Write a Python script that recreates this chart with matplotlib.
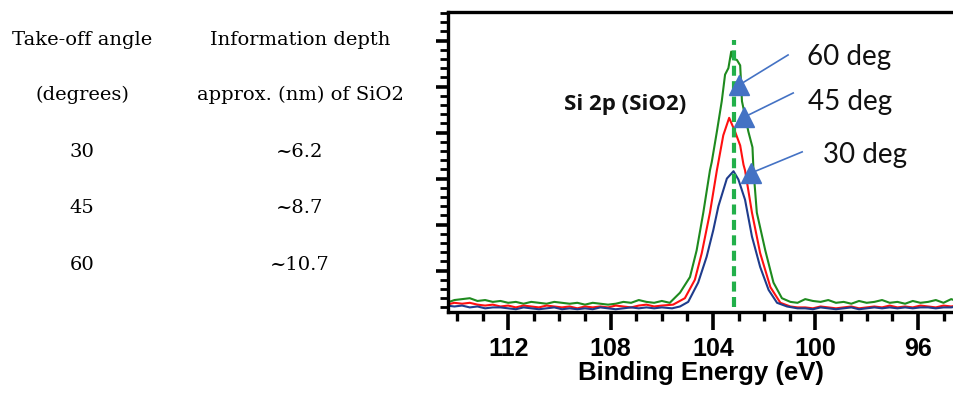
import matplotlib
matplotlib.use("Agg")
import matplotlib.pyplot as plt
from matplotlib.ticker import MultipleLocator

# table on the left
angles = ["30", "45", "60"]
depths = ["~6.2", "~8.7", "~10.7"]

# baseline x positions (eV), shared by the three spectra
base_left_x = [114.4, 114.1, 113.8, 113.5, 113.2, 112.9, 112.6, 112.3, 112.0, 111.7,
               111.4, 111.1, 110.8, 110.5, 110.2, 109.9, 109.6, 109.3, 109.0, 108.7,
               108.4, 108.1, 107.8, 107.5, 107.2, 106.9, 106.6, 106.3, 106.0]
base_right_x = [100.7, 100.4, 100.1, 99.8, 99.5, 99.2, 98.9, 98.6, 98.3, 98.0, 97.7,
                97.4, 97.1, 96.8, 96.5, 96.2, 95.9, 95.6, 95.3, 95.0, 94.7, 94.5]

# 60 deg (green)
g_left = [1.5, 1.8, 1.9, 2.0, 1.7, 1.8, 1.6, 1.7, 1.5, 1.6, 1.4, 1.6, 1.5, 1.4, 1.6,
          1.5, 1.4, 1.5, 1.3, 1.5, 1.4, 1.3, 1.4, 1.6, 1.5, 1.8, 1.6, 1.5, 1.7]
g_peak_x = [105.69, 105.29, 104.90, 104.64, 104.38, 104.12, 104.05, 103.85, 103.66,
            103.53, 103.40, 103.29, 103.22, 103.07, 102.94, 102.87, 102.62, 102.46,
            102.42, 102.29, 101.96, 101.64, 101.31, 100.98]
g_peak_y = [1.5, 2.6, 4.3, 7.2, 11.3, 15.9, 16.8, 20.1, 23.4, 26.3, 27.0, 28.8, 28.0,
            27.9, 27.3, 23.4, 20.1, 18.4, 15.9, 11.3, 7.2, 3.7, 2.0, 1.6]
g_right = [1.5, 1.9, 1.7, 1.6, 1.8, 1.5, 1.6, 1.4, 1.7, 1.5, 1.6, 1.8, 1.5, 1.6, 1.4,
           1.7, 1.5, 1.6, 1.8, 1.5, 1.9, 1.7]

# 45 deg (red)
r_left = [1.3, 1.5, 1.4, 1.5, 1.3, 1.2, 1.3, 1.1, 1.2, 1.0, 1.2, 1.1, 1.0, 1.2, 1.1,
          1.0, 1.1, 0.9, 1.1, 1.0, 1.1, 1.0, 1.2, 1.1, 1.0, 1.2, 1.3, 1.1, 1.2]
r_peak_x = [105.56, 105.10, 104.71, 104.44, 104.12, 103.85, 103.79, 103.60, 103.37,
            103.14, 102.94, 102.81, 102.75, 102.48, 102.16, 101.76, 101.37, 100.98]
r_peak_y = [1.3, 2.0, 4.0, 6.9, 11.3, 15.9, 16.8, 19.7, 21.6, 20.1, 18.6, 16.5, 15.9,
            11.3, 6.9, 3.2, 1.5, 1.1]
r_right = [1.0, 1.0, 0.9, 1.1, 1.0, 0.9, 1.0, 1.1, 0.9, 1.0, 1.1, 1.0, 1.2, 1.0, 1.1,
           1.0, 1.2, 1.1, 1.0, 1.2, 1.1, 1.2]

# 30 deg (blue)
b_left = [1.2, 1.1, 1.2, 1.0, 1.1, 0.9, 1.0, 1.0, 0.9, 0.8, 1.0, 0.9, 0.8, 0.9, 1.0,
          0.8, 0.9, 0.8, 0.9, 0.8, 1.0, 0.9, 0.8, 0.9, 1.0, 0.9, 1.0, 0.9, 1.0]
b_peak_x = [105.6, 105.29, 104.97, 104.58, 104.25, 103.99, 103.79, 103.46, 103.20,
            103.01, 102.75, 102.48, 102.16, 101.83, 101.50, 101.11]
b_peak_y = [0.9, 1.1, 1.6, 3.7, 6.5, 9.4, 12.0, 15.0, 15.8, 14.9, 12.7, 8.7, 5.4, 2.9,
            1.5, 1.1]
b_right = [0.9, 0.9, 0.8, 1.0, 0.9, 0.8, 0.9, 1.0, 0.8, 0.9, 1.0, 0.9, 1.0, 0.9, 1.0,
           0.9, 1.0, 1.0, 0.9, 1.0, 1.0, 1.1]

peak_pos = 103.2
x_ticks = [112, 108, 104, 100, 96]

fig = plt.figure(figsize=(9.54, 3.96), dpi=100)

# left table
serif = "DejaVu Serif"
fs_tab = 14
fig.text(0.086, 0.899, "Take-off angle", ha="center", va="center", family=serif, fontsize=fs_tab)
fig.text(0.086, 0.760, "(degrees)", ha="center", va="center", family=serif, fontsize=fs_tab)
fig.text(0.3145, 0.899, "Information depth", ha="center", va="center", family=serif, fontsize=fs_tab)
fig.text(0.3145, 0.760, "approx. (nm) of SiO2", ha="center", va="center", family=serif, fontsize=fs_tab)
row_y = [0.616, 0.475, 0.331]
for a, d, yy in zip(angles, depths, row_y):
    fig.text(0.086, yy, a, ha="center", va="center", family=serif, fontsize=fs_tab)
    fig.text(0.3145, yy, d, ha="center", va="center", family=serif, fontsize=fs_tab)

ax = fig.add_axes([0.4696, 0.2121, 0.5304, 0.7576])

ax.plot(base_left_x + g_peak_x + base_right_x, g_left + g_peak_y + g_right,
        color="#1e8a1e", lw=1.5)
ax.plot(base_left_x + r_peak_x + base_right_x, r_left + r_peak_y + r_right,
        color="#ff1010", lw=1.5)
ax.plot(base_left_x + b_peak_x + base_right_x, b_left + b_peak_y + b_right,
        color="#1f3c8c", lw=1.5)

ax.plot([peak_pos, peak_pos], [1.0, 30.1], color="#22b04a", lw=3, dashes=(2.4, 1.3))

# arrows to the peaks
arrow_c = "#4472c4"
labels = [("60 deg", (102.98, 25.17), (101.07, 28.43), (100.33, 27.35)),
          ("45 deg", (102.79, 21.67), (100.87, 24.3), (100.29, 22.46)),
          ("30 deg", (102.52, 15.6), (100.52, 17.9), (99.70, 16.7))]
for txt, tip, start, tpos in labels:
    ax.plot([start[0], tip[0]], [start[1], tip[1]], color=arrow_c, lw=1.2)
    ax.plot(tip[0], tip[1], marker="^", ms=14, color=arrow_c, mec=arrow_c)
    ax.text(tpos[0], tpos[1], txt, ha="left", va="baseline", family="Lato",
            fontsize=20, color="#111111")

ax.text(107.44, 23.1, "Si 2p (SiO2)", ha="center", va="center", family="Open Sans",
        fontweight="bold", fontsize=16, color="#111111")

ax.set_xlim(114.35, 94.59)
ax.set_ylim(0.5, 33.1)

ax.set_xticks(x_ticks)
ax.xaxis.set_minor_locator(MultipleLocator(1))
ax.yaxis.set_major_locator(MultipleLocator(5))
ax.yaxis.set_minor_locator(MultipleLocator(1))
ax.set_yticklabels([])
ax.tick_params(axis="x", which="major", direction="out", length=13, width=2.6, pad=5,
               labelsize=18)
ax.tick_params(axis="x", which="minor", direction="out", length=6.5, width=2.4)
ax.tick_params(axis="y", which="major", direction="out", length=9, width=2.6)
ax.tick_params(axis="y", which="minor", direction="out", length=5.5, width=2)
for lab in ax.get_xticklabels():
    lab.set_fontweight("bold")
    lab.set_family("Liberation Sans")

ax.set_xlabel("Binding Energy (eV)", family="Liberation Sans", fontweight="bold",
              fontsize=18.5, labelpad=0)

for side in ["left", "bottom", "top"]:
    ax.spines[side].set_linewidth(2.4)
ax.spines["right"].set_visible(False)

fig.savefig("out.png", dpi=100)
